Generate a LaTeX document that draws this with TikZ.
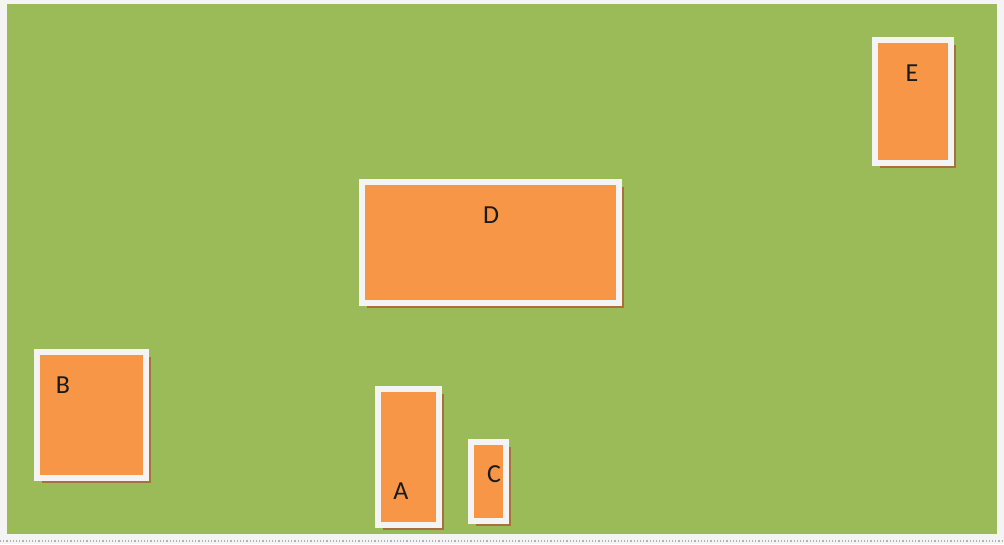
\documentclass[tikz,border=0pt]{standalone}
\usepackage{fontspec}
\setmainfont{Carlito}
\usetikzlibrary{shadows}
\definecolor{pagebg}{HTML}{F4F4F4}
\definecolor{grass}{HTML}{9BBB59}
\definecolor{orangefill}{HTML}{F79646}
\definecolor{framec}{HTML}{F4F4F4}
\definecolor{shadowc}{HTML}{A8703A}
\definecolor{labelc}{HTML}{1A1A1A}
\tikzset{
  card/.style={draw=framec, line width=6pt, fill=orangefill, outer sep=0pt, inner sep=0pt,
    drop shadow={shadow xshift=5pt, shadow yshift=-5pt, fill=shadowc, opacity=1}},
  cardlabel/.style={text=labelc, font=\fontsize{26}{26}\selectfont, inner sep=0pt}
}
\begin{document}
\begin{tikzpicture}[x=1pt,y=-1pt]
\useasboundingbox[fill=pagebg] (0,0) rectangle (1004,544);
\fill[grass] (7,4) rectangle (997,534);
\draw[gray!60, line width=1.2pt, dotted] (0,541) -- (1004,541);
% boxes
\node[card, minimum width=257pt, minimum height=121pt] (D) at (490.5,242) {};
\node[card, minimum width=109pt, minimum height=126pt] (B) at (91.5,415) {};
\node[card, minimum width=61pt, minimum height=136pt] (A) at (408.5,457) {};
\node[card, minimum width=35pt, minimum height=79pt] (C) at (488.5,481.5) {};
\node[card, minimum width=76pt, minimum height=123pt] (E) at (913,101.5) {};
% labels
\node[cardlabel] (Dl) at (491,215) {D};
\node[cardlabel] (Bl) at (63,385) {B};
\node[cardlabel] (Al) at (401,491) {A};
\node[cardlabel] (Cl) at (494,474) {C};
\node[cardlabel] (El) at (912,73) {E};
\end{tikzpicture}
\end{document}
